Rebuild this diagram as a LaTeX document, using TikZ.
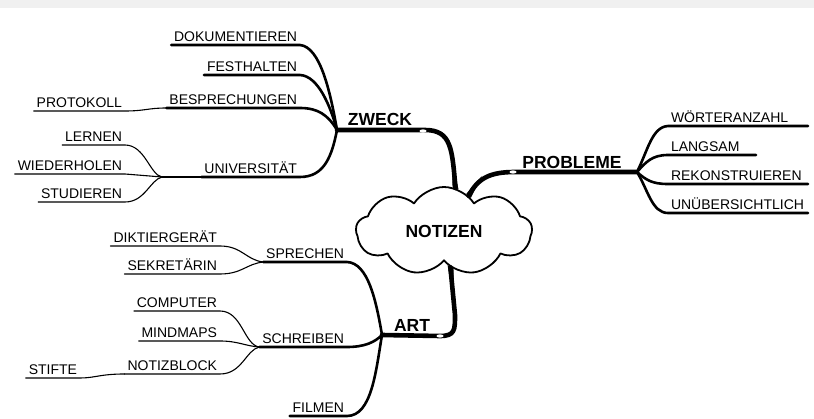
\documentclass[tikz,border=0pt]{standalone}
\usepackage{fontspec}
\newfontfamily\mapfont{Liberation Sans}
\usetikzlibrary{shapes.symbols}

\tikzset{
  leaf/.style={font=\mapfont\fontsize{14}{16}\selectfont, inner xsep=3pt, inner ysep=3pt, outer sep=0pt},
  rleaf/.style={leaf, anchor=south west, align=left, text width=#1},
  topic/.style={font=\mapfont\bfseries\fontsize{17.5}{20}\selectfont, inner sep=0pt},
  twig/.style={line width=1.1pt},
  branch/.style={line width=2.6pt},
  trunk/.style={line width=4.6pt},
  shine/.style={fill=white}
}

\begin{document}
\begin{tikzpicture}[x=1pt, y=-1pt, line cap=round, line join=round]
        \useasboundingbox (0, 0) rectangle (814, 419);
        \fill[black!6] (0, 0) rectangle (814, 8);

        \node (notizen) at (444, 231)[cloud, cloud puffs=9, cloud puff arc=115, aspect=2, draw, line width=1.8pt, minimum width=176pt, minimum height=88pt, topic] {NOTIZEN};

        \node (zweck) at (380, 119)[topic] {ZWECK};
        \node (probleme) at (572, 162)[topic] {PROBLEME};
        \node (art) at (412, 325)[topic] {ART};

        \coordinate (zweck-j) at (337, 130);
        \coordinate (probleme-j) at (637, 172);
        \coordinate (art-j) at (382, 335);
        \coordinate (univ-j) at (162, 177);

        \draw[trunk] (zweck-j) -- (425, 130) .. controls (452, 130) and (452, 150) .. (notizen.75);
        \draw[trunk] (probleme-j) -- (515, 172) .. controls (490, 172) and (478, 178) .. (notizen.55);
        \draw[trunk] (art-j) -- (440, 336) .. controls (455, 336) and (455, 330) .. (455, 315) -- (notizen.-80);
        \fill (notizen.71) -- (notizen.79) -- (452, 160) -- cycle;
        \fill (notizen.51) -- (notizen.59) -- (482, 176) -- cycle;
        \fill (notizen.-76) -- (notizen.-84) -- (454, 305) -- cycle;

        \fill[shine] (423, 131) ellipse (3.5 and 1.6);
        \fill[shine] (513, 172) ellipse (3.5 and 1.6);
        \fill[shine] (440, 336) ellipse (3.5 and 1.6);

        % zweck
        \node (dok) at (300, 45)[leaf, anchor=south east] {DOKUMENTIEREN};
        \node (fest) at (300, 75)[leaf, anchor=south east] {FESTHALTEN};
        \node (bespr) at (300, 108)[leaf, anchor=south east] {BESPRECHUNGEN};
        \node (univ) at (300, 177)[leaf, anchor=south east] {UNIVERSITÄT};
        \node (proto) at (125, 111)[leaf, anchor=south east] {PROTOKOLL};
        \node (lern) at (125, 145)[leaf, anchor=south east] {LERNEN};
        \node (wied) at (125, 174)[leaf, anchor=south east] {WIEDERHOLEN};
        \node (stud) at (125, 202)[leaf, anchor=south east] {STUDIEREN};

        \draw[branch] (dok.south west) -- (dok.south east) .. controls (320, 47) and (330, 90) .. (zweck-j);
        \draw[branch] (fest.south west) -- (fest.south east) .. controls (318, 76) and (330, 105) .. (zweck-j);
        \draw[branch] (bespr.south west) -- (bespr.south east) .. controls (318, 108) and (328, 115) .. (zweck-j);
        \draw[twig] (univ-j) -- (univ.south west);
        \draw[branch] (univ.south west) -- (univ.south east) .. controls (325, 177) and (332, 155) .. (zweck-j);
        \draw[twig] (proto.south west) -- (proto.south east) .. controls (145, 111) and (148, 108) .. (bespr.south west);
        \draw[twig] (lern.south west) -- (lern.south east) .. controls (145, 145) and (150, 175) .. (univ-j);
        \draw[twig] (wied.south west) -- (wied.south east) -- (univ-j);
        \draw[twig] (stud.south west) -- (stud.south east) .. controls (145, 202) and (150, 180) .. (univ-j);

        % probleme
        \node (woert) at (668, 126)[rleaf=134pt] {WÖRTERANZAHL};
        \node (langs) at (668, 155)[rleaf=82pt] {LANGSAM};
        \node (rekon) at (668, 184)[rleaf=134pt] {REKONSTRUIEREN};
        \node (unueb) at (668, 213)[rleaf=134pt] {UNÜBERSICHTLICH};

        \draw[branch] (probleme-j) .. controls (648, 150) and (652, 127) .. (woert.south west) -- (woert.south east);
        \draw[branch] (probleme-j) .. controls (646, 162) and (652, 155) .. (langs.south west) -- (langs.south east);
        \draw[branch] (probleme-j) .. controls (646, 180) and (652, 184) .. (rekon.south west) -- (rekon.south east);
        \draw[branch] (probleme-j) .. controls (648, 190) and (652, 213) .. (unueb.south west) -- (unueb.south east);

        % art
        \node (sprech) at (347, 262)[leaf, anchor=south east] {SPRECHEN};
        \node (schreib) at (347, 347)[leaf, anchor=south east] {SCHREIBEN};
        \node (film) at (347, 416)[leaf, anchor=south east] {FILMEN};
        \node (diktier) at (220, 246)[leaf, anchor=south east] {DIKTIERGERÄT};
        \node (sekret) at (220, 274)[leaf, anchor=south east] {SEKRETÄRIN};
        \node (comp) at (220, 311)[leaf, anchor=south east] {COMPUTER};
        \node (mind) at (220, 341)[leaf, anchor=south east] {MINDMAPS};
        \node (block) at (220, 374)[leaf, anchor=south east] {NOTIZBLOCK};
        \node (stifte) at (80, 378)[leaf, anchor=south east] {STIFTE};

        \draw[branch] (sprech.south west) -- (sprech.south east) .. controls (368, 263) and (376, 300) .. (art-j);
        \draw[branch] (schreib.south west) -- (schreib.south east) .. controls (365, 347) and (375, 342) .. (art-j);
        \draw[branch] (film.south west) -- (film.south east) .. controls (372, 416) and (376, 370) .. (art-j);
        \draw[twig] (diktier.south west) -- (diktier.south east) .. controls (242, 246) and (246, 260) .. (sprech.south west);
        \draw[twig] (sekret.south west) -- (sekret.south east) .. controls (242, 274) and (246, 264) .. (sprech.south west);
        \draw[twig] (comp.south west) -- (comp.south east) .. controls (242, 311) and (244, 345) .. (schreib.south west);
        \draw[twig] (mind.south west) -- (mind.south east) .. controls (238, 341) and (245, 346) .. (schreib.south west);
        \draw[twig] (block.south west) -- (block.south east) .. controls (242, 374) and (246, 350) .. (schreib.south west);
        \draw[twig] (stifte.south west) -- (stifte.south east) .. controls (95, 378) and (100, 374) .. (block.south west);
    \end{tikzpicture}
\end{document}
